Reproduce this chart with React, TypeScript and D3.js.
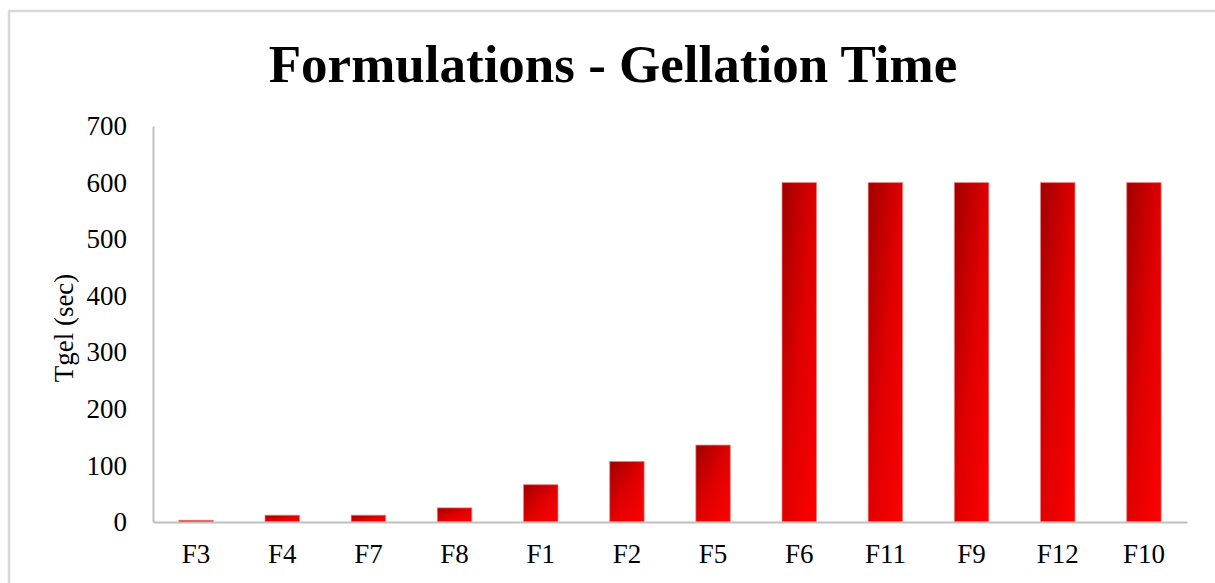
import React, { useEffect, useRef } from 'react';
import * as d3 from 'd3';

const categories = ['F3', 'F4', 'F7', 'F8', 'F1', 'F2', 'F5', 'F6', 'F11', 'F9', 'F12', 'F10'];
const gelTimes = [3, 12, 12, 25, 66, 107, 136, 600, 600, 600, 600, 600];
const yTicks = [0, 100, 200, 300, 400, 500, 600, 700];

const chartTitle = 'Formulations - Gellation Time';
const yTitle = 'Tgel (sec)';

const W = 1215;
const H = 583;
const FONT = '"Times New Roman", "Liberation Serif", serif';

const App = () => {
  const ref = useRef<SVGSVGElement>(null);

  useEffect(() => {
    const svg = d3.select(ref.current);
    svg.selectAll('*').remove();

    const margin = { top: 126, right: 28, bottom: 61, left: 153 };

    const x = d3.scaleBand()
      .domain(categories)
      .range([margin.left, W - margin.right])
      .paddingInner(0.6)
      .paddingOuter(0.3);

    const y = d3.scaleLinear()
      .domain([0, 700])
      .range([H - margin.bottom, margin.top]);

    // gradient fill for the bars
    const defs = svg.append('defs');
    const grad = defs.append('linearGradient')
      .attr('id', 'barGrad')
      .attr('x1', 0).attr('y1', 0)
      .attr('x2', 1).attr('y2', 1);
    grad.append('stop').attr('offset', '0%').attr('stop-color', '#a00000');
    grad.append('stop').attr('offset', '50%').attr('stop-color', '#df0000');
    grad.append('stop').attr('offset', '100%').attr('stop-color', '#ff0000');

    // chart area border
    svg.append('rect')
      .attr('x', 9)
      .attr('y', 11)
      .attr('width', W + 20)
      .attr('height', H + 20)
      .attr('fill', 'none')
      .attr('stroke', '#d9d9d9')
      .attr('stroke-width', 2.5);

    // title
    svg.append('text')
      .attr('x', 613)
      .attr('y', 82)
      .attr('text-anchor', 'middle')
      .style('font-family', FONT)
      .style('font-size', '53px')
      .style('font-weight', 'bold')
      .attr('fill', '#000')
      .text(chartTitle);

    // bars
    svg.selectAll('.bar')
      .data(categories)
      .enter().append('rect')
      .attr('class', 'bar')
      .attr('x', d => x(d) as number)
      .attr('y', (d, i) => y(gelTimes[i]))
      .attr('width', x.bandwidth())
      .attr('height', (d, i) => y(0) - y(gelTimes[i]))
      .attr('fill', 'url(#barGrad)')
      .attr('stroke', '#f08080')
      .attr('stroke-opacity', 0.7)
      .attr('stroke-width', 1);

    // y axis
    const yAxis = svg.append('g')
      .attr('transform', `translate(${margin.left},0)`)
      .call(d3.axisLeft(y).tickValues(yTicks).tickSize(0).tickPadding(26));
    yAxis.select('.domain').attr('stroke', '#bfbfbf').attr('stroke-width', 2);
    yAxis.selectAll('text')
      .style('font-family', FONT)
      .style('font-size', '27px')
      .attr('fill', '#000');

    // x axis
    const xAxis = svg.append('g')
      .attr('transform', `translate(0,${H - margin.bottom})`)
      .call(d3.axisBottom(x).tickSize(0).tickPadding(22));
    xAxis.select('.domain').attr('stroke', '#bfbfbf').attr('stroke-width', 2);
    xAxis.selectAll('text')
      .style('font-family', FONT)
      .style('font-size', '27px')
      .attr('fill', '#000');

    // y axis title
    svg.append('text')
      .attr('transform', `translate(64,${(margin.top + H - margin.bottom) / 2 + 4}) rotate(-90)`)
      .attr('text-anchor', 'middle')
      .attr('dominant-baseline', 'central')
      .style('font-family', FONT)
      .style('font-size', '27px')
      .attr('fill', '#000')
      .text(yTitle);
  }, []);

  return (
    <svg
      ref={ref}
      width={W}
      height={H}
      style={{ position: 'absolute', left: 0, top: 0, background: '#fff' }}
    ></svg>
  );
};

export default App;
